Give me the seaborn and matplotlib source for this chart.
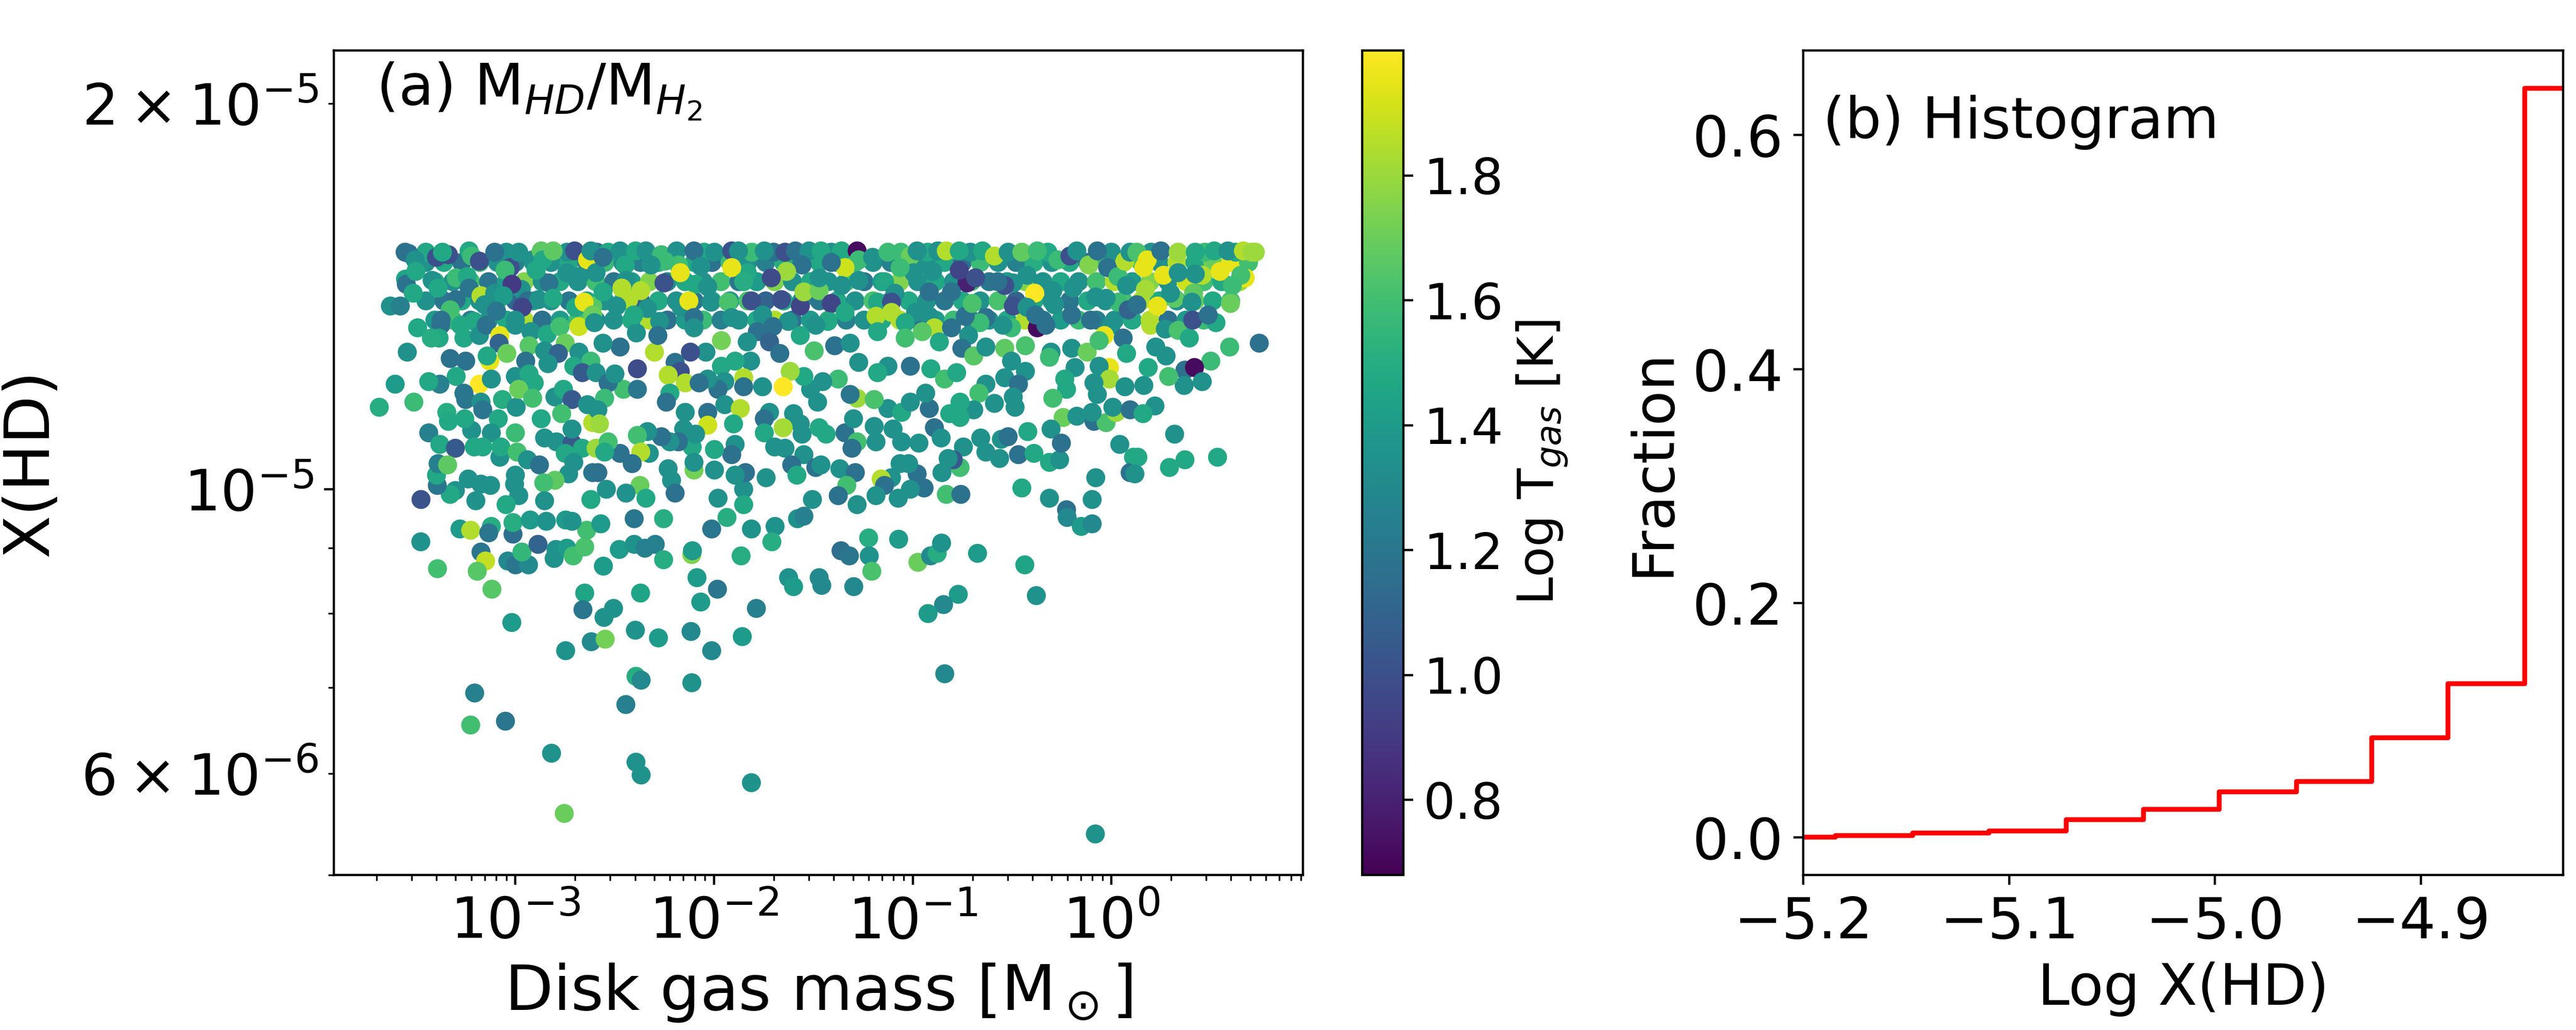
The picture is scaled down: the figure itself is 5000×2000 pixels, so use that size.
import numpy as np
import pandas as pd
import matplotlib
matplotlib.use("Agg")
import matplotlib.pyplot as plt
import seaborn as sns
from matplotlib.colors import Normalize
from matplotlib.cm import ScalarMappable

# ---------------------------------------------------------------------------
# Scatter data: (log10 Mgas [Msun], log10 X(HD), log10 Tgas [K])
# ---------------------------------------------------------------------------
# densely packed band just below the upper limit (drawn first, underneath)
pts_dense = [
    (-3.45, -4.823, 1.34), (-3.36, -4.823, 1.47), (-3.27, -4.823, 1.17), (-3.18, -4.823, 1.58),
    (-3.09, -4.823, 1.34), (-3.00, -4.823, 1.25), (-2.91, -4.823, 1.50), (-2.82, -4.823, 1.34),
    (-2.73, -4.823, 1.47), (-2.64, -4.823, 1.17), (-2.55, -4.823, 1.58), (-2.46, -4.823, 1.34),
    (-2.37, -4.823, 1.25), (-2.28, -4.823, 1.50), (-2.19, -4.823, 1.34), (-2.10, -4.823, 1.47),
    (-2.01, -4.823, 1.17), (-1.92, -4.823, 1.58), (-1.83, -4.823, 1.34), (-1.74, -4.823, 1.25),
    (-1.65, -4.823, 1.50), (-1.56, -4.823, 1.34), (-1.47, -4.823, 1.47), (-1.38, -4.823, 1.17),
    (-1.29, -4.823, 1.58), (-1.20, -4.823, 1.34), (-1.11, -4.823, 1.25), (-1.02, -4.823, 1.50),
    (-0.93, -4.823, 1.34), (-0.84, -4.823, 1.47), (-0.75, -4.823, 1.17), (-0.66, -4.823, 1.58),
    (-0.57, -4.823, 1.34), (-0.48, -4.823, 1.25), (-0.39, -4.823, 1.50), (-0.30, -4.823, 1.34),
    (-0.21, -4.823, 1.47), (-0.12, -4.823, 1.17), (-0.03, -4.823, 1.58), (0.06, -4.823, 1.80),
    (0.15, -4.823, 1.60), (0.24, -4.823, 1.34), (0.33, -4.823, 1.85), (0.42, -4.823, 1.47),
    (0.51, -4.823, 1.70), (0.60, -4.823, 1.95), (0.69, -4.823, 1.60),
    (-3.405, -4.838, 1.47), (-3.315, -4.838, 1.34), (-3.225, -4.838, 1.60), (-3.135, -4.838, 1.20),
    (-3.045, -4.838, 1.40), (-2.955, -4.838, 1.75), (-2.865, -4.838, 1.34), (-2.775, -4.838, 1.47),
    (-2.685, -4.838, 1.34), (-2.595, -4.838, 1.60), (-2.505, -4.838, 1.20), (-2.415, -4.838, 1.40),
    (-2.325, -4.838, 1.75), (-2.235, -4.838, 1.34), (-2.145, -4.838, 1.47), (-2.055, -4.838, 1.34),
    (-1.965, -4.838, 1.60), (-1.875, -4.838, 1.20), (-1.785, -4.838, 1.40), (-1.695, -4.838, 1.75),
    (-1.605, -4.838, 1.34), (-1.515, -4.838, 1.47), (-1.425, -4.838, 1.34), (-1.335, -4.838, 1.60),
    (-1.245, -4.838, 1.20), (-1.155, -4.838, 1.40), (-1.065, -4.838, 1.75), (-0.975, -4.838, 1.34),
    (-0.885, -4.838, 1.47), (-0.795, -4.838, 1.34), (-0.705, -4.838, 1.60), (-0.615, -4.838, 1.20),
    (-0.525, -4.838, 1.40), (-0.435, -4.838, 1.75), (-0.345, -4.838, 1.34), (-0.255, -4.838, 1.47),
    (-0.165, -4.838, 1.34), (-0.075, -4.838, 1.60), (0.015, -4.838, 1.85), (0.105, -4.838, 1.40),
    (0.195, -4.838, 1.75), (0.285, -4.838, 1.34), (0.375, -4.838, 1.90), (0.465, -4.838, 1.60),
    (0.555, -4.838, 1.47), (0.645, -4.838, 1.80),
    (-3.45, -4.853, 1.34), (-3.36, -4.853, 1.20), (-3.27, -4.853, 1.47), (-3.18, -4.853, 1.34),
    (-3.09, -4.853, 1.62), (-3.00, -4.853, 1.10), (-2.91, -4.853, 1.47), (-2.82, -4.853, 1.34),
    (-2.73, -4.853, 1.20), (-2.64, -4.853, 1.47), (-2.55, -4.853, 1.34), (-2.46, -4.853, 1.62),
    (-2.37, -4.853, 1.10), (-2.28, -4.853, 1.47), (-2.19, -4.853, 1.34), (-2.10, -4.853, 1.20),
    (-2.01, -4.853, 1.47), (-1.92, -4.853, 1.34), (-1.83, -4.853, 1.62), (-1.74, -4.853, 1.10),
    (-1.65, -4.853, 1.47), (-1.56, -4.853, 1.34), (-1.47, -4.853, 1.20), (-1.38, -4.853, 1.47),
    (-1.29, -4.853, 1.34), (-1.20, -4.853, 1.62), (-1.11, -4.853, 1.10), (-1.02, -4.853, 1.47),
    (-0.93, -4.853, 1.34), (-0.84, -4.853, 1.20), (-0.75, -4.853, 1.47), (-0.66, -4.853, 1.34),
    (-0.57, -4.853, 1.62), (-0.48, -4.853, 1.10), (-0.39, -4.853, 1.47), (-0.30, -4.853, 1.34),
    (-0.21, -4.853, 1.20), (-0.12, -4.853, 1.47), (-0.03, -4.853, 1.34), (0.06, -4.853, 1.62),
    (0.15, -4.853, 1.85), (0.24, -4.853, 1.47), (0.33, -4.853, 1.34), (0.42, -4.853, 1.70),
    (0.51, -4.853, 1.47), (0.60, -4.853, 1.62),
    (-3.405, -4.868, 1.40), (-3.315, -4.868, 1.58), (-3.225, -4.868, 1.25), (-3.135, -4.868, 1.34),
    (-3.045, -4.868, 1.47), (-2.955, -4.868, 1.85), (-2.865, -4.868, 1.17), (-2.775, -4.868, 1.40),
    (-2.685, -4.868, 1.58), (-2.595, -4.868, 1.25), (-2.505, -4.868, 1.34), (-2.415, -4.868, 1.47),
    (-2.325, -4.868, 1.85), (-2.235, -4.868, 1.17), (-2.145, -4.868, 1.40), (-2.055, -4.868, 1.58),
    (-1.965, -4.868, 1.25), (-1.875, -4.868, 1.34), (-1.785, -4.868, 1.47), (-1.695, -4.868, 1.85),
    (-1.605, -4.868, 1.17), (-1.515, -4.868, 1.40), (-1.425, -4.868, 1.58), (-1.335, -4.868, 1.25),
    (-1.245, -4.868, 1.34), (-1.155, -4.868, 1.47), (-1.065, -4.868, 1.85), (-0.975, -4.868, 1.17),
    (-0.885, -4.868, 1.40), (-0.795, -4.868, 1.58), (-0.705, -4.868, 1.25), (-0.615, -4.868, 1.34),
    (-0.525, -4.868, 1.47), (-0.435, -4.868, 1.85), (-0.345, -4.868, 1.17), (-0.255, -4.868, 1.40),
    (-0.165, -4.868, 1.58), (-0.075, -4.868, 1.25), (0.015, -4.868, 1.34), (0.105, -4.868, 1.47),
    (0.195, -4.868, 1.85), (0.285, -4.868, 1.17), (0.375, -4.868, 1.40), (0.465, -4.868, 1.58),
]

pts_low = [
    (-3.476, -5.041, 1.35), (-3.392, -5.062, 1.60), (-3.279, -5.031, 1.40), (-3.225, -5.032, 1.85),
    (-3.121, -5.029, 1.50), (-3.134, -5.034, 1.20), (-3.012, -5.035, 1.15), (-3.012, -5.026, 1.50),
    (-3.173, -5.049, 1.20), (-3.150, -5.056, 1.88), (-3.192, -5.064, 1.65), (-3.118, -5.078, 1.65),
    (-3.038, -5.056, 1.30), (-2.999, -5.059, 1.20), (-2.934, -5.059, 1.30), (-2.967, -5.049, 1.55),
    (-2.886, -5.043, 1.10), (-2.805, -5.054, 1.35), (-2.796, -5.047, 1.35), (-2.741, -5.046, 1.40),
    (-2.709, -5.052, 1.60), (-2.651, -5.045, 1.62), (-2.641, -5.032, 1.60), (-2.570, -5.027, 1.40),
    (-2.557, -5.060, 1.40), (-2.925, -5.024, 1.40), (-2.844, -5.025, 1.35), (-2.747, -5.024, 1.40),
    (-2.715, -5.025, 1.35), (-2.402, -5.023, 1.20), (-2.254, -5.023, 1.50), (-2.477, -5.047, 1.40),
    (-2.402, -5.043, 1.35), (-2.348, -5.046, 1.25), (-2.296, -5.043, 1.25), (-2.254, -5.055, 1.50),
    (-2.112, -5.051, 1.75), (-2.109, -5.048, 1.40), (-2.012, -5.031, 1.20), (-1.935, -5.022, 1.50),
    (-1.812, -5.031, 1.35), (-1.693, -5.029, 1.35), (-1.709, -5.041, 1.50), (-1.864, -5.052, 1.50),
    (-1.580, -5.023, 1.35), (-1.548, -5.021, 1.25), (-2.086, -5.069, 1.40), (-1.983, -5.078, 1.20),
    (-2.651, -5.081, 1.45), (-2.370, -5.081, 1.45), (-2.067, -5.088, 1.40), (-1.787, -5.093, 1.25),
    (-2.660, -5.094, 1.20), (-2.506, -5.093, 1.35), (-2.554, -5.100, 1.35), (-3.018, -5.104, 1.40),
    (-2.396, -5.110, 1.35), (-2.280, -5.116, 1.40), (-2.116, -5.111, 1.30), (-1.858, -5.115, 1.40),
    (-2.618, -5.119, 1.30), (-2.548, -5.117, 1.72), (-2.747, -5.126, 1.35), (-2.012, -5.126, 1.30),
    (-1.625, -5.069, 1.35), (-1.600, -5.076, 1.40), (-1.471, -5.069, 1.30), (-1.458, -5.075, 1.30),
    (-1.297, -5.076, 1.30), (-1.361, -5.048, 1.15), (-1.319, -5.052, 1.20), (-1.222, -5.038, 1.50),
    (-1.219, -5.052, 1.35), (-1.206, -5.064, 1.62), (-1.071, -5.039, 1.40), (-0.974, -5.057, 1.70),
    (-0.910, -5.052, 1.30), (-0.877, -5.050, 1.50), (-0.855, -5.042, 1.35), (-0.674, -5.050, 1.40),
    (-0.436, -5.059, 1.45), (-0.378, -5.083, 1.35), (-0.771, -5.082, 1.40), (-0.845, -5.090, 1.30),
    (-0.923, -5.097, 1.40), (-0.223, -5.022, 1.30), (-0.152, -5.029, 1.40), (-0.097, -5.027, 1.30),
    (-0.839, -5.144, 1.30), (-2.393, -5.146, 1.50), (-2.367, -5.149, 1.30), (-2.112, -5.151, 1.35),
    (-3.205, -5.159, 1.25), (-2.444, -5.168, 1.25), (-3.225, -5.184, 1.60), (-3.050, -5.181, 1.20),
    (-2.818, -5.206, 1.35), (-2.393, -5.213, 1.35), (-2.367, -5.223, 1.35), (-1.812, -5.229, 1.35),
    (-2.754, -5.253, 1.70), (-0.081, -5.269, 1.35),
]

pts_left = [
    (-3.537, -4.816, 1.17), (-3.504, -4.821, 1.34), (-3.397, -4.819, 1.00), (-3.337, -4.817, 1.00),
    (-3.367, -4.815, 1.47), (-3.233, -4.814, 1.47), (-3.220, -4.818, 1.58), (-3.181, -4.822, 1.00),
    (-3.104, -4.815, 1.17), (-3.026, -4.827, 1.00), (-3.052, -4.829, 1.58), (-2.983, -4.815, 1.34),
    (-2.913, -4.821, 1.34), (-2.870, -4.814, 1.67), (-2.862, -4.821, 1.47), (-2.810, -4.814, 1.67),
    (-2.702, -4.814, 1.00), (-2.637, -4.821, 1.95), (-2.620, -4.814, 1.34), (-2.741, -4.831, 1.34),
    (-2.831, -4.839, 1.20), (-2.970, -4.844, 1.34), (-3.017, -4.840, 0.90), (-2.896, -4.829, 1.47),
    (-2.680, -4.834, 1.34), (-2.594, -4.831, 1.34), (-3.553, -4.836, 1.45), (-3.549, -4.840, 1.17),
    (-3.514, -4.847, 1.47), (-3.501, -4.830, 1.47), (-3.419, -4.837, 1.34), (-3.389, -4.843, 1.47),
    (-3.298, -4.835, 1.58), (-3.242, -4.834, 1.47), (-3.233, -4.843, 1.20), (-3.298, -4.852, 1.17),
    (-3.328, -4.860, 1.60), (-3.173, -4.849, 1.85), (-3.104, -4.847, 1.34), (-3.060, -4.849, 1.40),
    (-3.155, -4.856, 1.34), (-3.095, -4.861, 1.20), (-2.939, -4.853, 1.15), (-2.883, -4.852, 1.34),
    (-2.810, -4.851, 1.47), (-2.697, -4.858, 1.47), (-2.611, -4.857, 1.65), (-2.654, -4.854, 1.95),
    (-2.965, -4.858, 0.95), (-3.629, -4.857, 1.34), (-3.579, -4.857, 1.25), (-3.492, -4.874, 1.47),
    (-3.373, -4.868, 1.17), (-3.376, -4.872, 1.17), (-3.384, -4.882, 1.47), (-3.276, -4.872, 1.47),
    (-3.259, -4.882, 1.47), (-3.207, -4.869, 1.47), (-3.181, -4.880, 1.34), (-3.147, -4.872, 1.17),
    (-3.078, -4.880, 1.95), (-3.082, -4.886, 1.10), (-3.000, -4.868, 1.34), (-3.000, -4.872, 1.34),
    (-2.922, -4.877, 1.34), (-2.840, -4.879, 1.47), (-2.775, -4.873, 1.60), (-2.749, -4.886, 1.70),
    (-2.680, -4.873, 1.90), (-2.611, -4.864, 1.70), (-2.602, -4.870, 1.34), (-2.931, -4.888, 1.65),
    (-2.853, -4.892, 1.34), (-2.784, -4.894, 1.10), (-2.680, -4.893, 1.34), (-2.620, -4.900, 1.58),
    (-2.706, -4.904, 1.47), (-2.663, -4.909, 1.05), (-2.594, -4.909, 1.34), (-3.043, -4.894, 1.70),
    (-3.129, -4.900, 1.95), (-3.142, -4.896, 1.47), (-3.250, -4.900, 1.17), (-3.328, -4.898, 1.17),
    (-3.544, -4.893, 1.34), (-2.948, -4.900, 1.17), (-2.836, -4.902, 1.34), (-3.000, -4.912, 1.34),
    (-2.931, -4.910, 1.47), (-2.905, -4.917, 1.47), (-3.298, -4.912, 1.47), (-3.380, -4.918, 1.25),
    (-3.436, -4.916, 1.47), (-3.605, -4.918, 1.40), (-3.181, -4.918, 2.00), (-3.121, -4.914, 1.34),
    (-3.259, -4.925, 1.20), (-3.250, -4.930, 1.20), (-3.173, -4.932, 1.34), (-3.164, -4.938, 1.20),
    (-3.065, -4.930, 1.50), (-2.996, -4.936, 1.34), (-2.983, -4.922, 1.70), (-2.913, -4.929, 1.60),
    (-2.801, -4.928, 1.34), (-2.758, -4.922, 1.47), (-2.715, -4.930, 1.05), (-2.637, -4.934, 1.34),
    (-2.767, -4.941, 1.60), (-2.611, -4.948, 1.85), (-2.870, -4.945, 1.47), (-3.000, -4.956, 1.58),
    (-3.086, -4.945, 1.47), (-3.121, -4.956, 1.34), (-3.220, -4.954, 1.34), (-3.255, -4.945, 1.47),
    (-3.345, -4.940, 1.50), (-3.337, -4.947, 1.47), (-3.436, -4.956, 1.25), (-3.380, -4.965, 1.47),
    (-3.302, -4.968, 1.05), (-3.207, -4.967, 1.47), (-3.164, -4.967, 1.47), (-3.078, -4.975, 1.34),
    (-3.073, -4.967, 1.47), (-2.991, -4.971, 1.60), (-2.939, -4.977, 1.34), (-2.879, -4.981, 1.17),
    (-2.853, -4.960, 1.34), (-2.793, -4.963, 1.34), (-2.715, -4.964, 1.05), (-2.715, -4.953, 1.34),
    (-2.749, -4.972, 1.47), (-2.663, -4.968, 1.47), (-2.594, -4.968, 1.80), (-2.706, -4.979, 1.34),
    (-2.611, -4.987, 1.20), (-2.732, -4.988, 1.34), (-2.801, -4.993, 1.67), (-2.857, -4.995, 1.60),
    (-3.000, -4.989, 1.34), (-3.004, -4.996, 1.34), (-2.983, -5.005, 1.34), (-3.125, -4.997, 1.34),
    (-3.173, -4.996, 1.34), (-3.237, -4.992, 1.34), (-3.302, -5.001, 1.34), (-3.328, -5.004, 1.47),
    (-3.199, -5.009, 1.34), (-3.047, -5.012, 1.47), (-2.853, -5.009, 1.34), (-2.620, -5.008, 1.47),
    (-3.393, -4.997, 1.20), (-3.397, -4.989, 1.47), (-3.389, -4.980, 1.25), (-3.341, -4.981, 1.67),
    (-3.475, -5.008, 1.02), (-3.685, -4.936, 1.50), (-3.511, -4.932, 1.58), (-3.423, -4.882, 1.50),
]

pts_midleft = [
    (-2.533, -4.815, 1.47), (-2.473, -4.814, 1.34), (-2.395, -4.814, 1.47), (-2.343, -4.814, 1.34),
    (-2.265, -4.817, 1.58), (-2.188, -4.814, 1.34), (-2.101, -4.814, 1.17), (-1.998, -4.815, 1.34),
    (-1.911, -4.814, 1.02), (-1.877, -4.814, 1.34), (-1.747, -4.814, 1.34), (-1.643, -4.815, 1.00),
    (-1.591, -4.814, 1.17), (-1.522, -4.814, 1.34), (-1.462, -4.814, 1.47), (-1.358, -4.814, 1.47),
    (-1.280, -4.814, 0.72), (-1.272, -4.821, 1.58), (-1.341, -4.827, 1.90), (-1.410, -4.823, 1.17),
    (-1.557, -4.825, 1.17), (-1.635, -4.830, 1.80), (-1.712, -4.835, 0.98), (-1.833, -4.831, 1.47),
    (-1.911, -4.827, 1.95), (-2.067, -4.826, 1.34), (-2.179, -4.825, 1.60), (-2.248, -4.822, 1.58),
    (-2.317, -4.825, 1.34), (-2.447, -4.825, 1.47), (-2.559, -4.819, 1.17), (-2.443, -4.837, 1.34),
    (-2.252, -4.839, 1.02), (-2.093, -4.840, 1.47), (-2.032, -4.842, 1.34), (-2.170, -4.831, 1.95),
    (-2.369, -4.845, 1.85), (-2.464, -4.843, 1.85), (-2.430, -4.852, 1.85), (-2.490, -4.857, 1.34),
    (-2.559, -4.846, 1.47), (-2.335, -4.859, 1.34), (-2.274, -4.869, 1.34), (-2.166, -4.858, 1.34),
    (-2.127, -4.853, 1.95), (-2.101, -4.866, 1.17), (-2.015, -4.854, 1.34), (-1.928, -4.854, 1.62),
    (-1.851, -4.838, 1.50), (-1.812, -4.853, 1.00), (-1.756, -4.864, 1.34), (-1.661, -4.852, 1.00),
    (-1.566, -4.857, 0.95), (-1.548, -4.846, 1.80), (-1.471, -4.845, 1.70), (-1.410, -4.855, 0.95),
    (-1.471, -4.835, 1.34), (-1.358, -4.841, 1.34), (-1.272, -4.837, 1.34), (-1.341, -4.862, 1.47),
    (-1.427, -4.869, 1.47), (-1.488, -4.872, 1.34), (-1.566, -4.880, 1.47), (-1.626, -4.869, 1.34),
    (-1.704, -4.873, 1.17), (-1.782, -4.877, 1.17), (-1.721, -4.885, 1.10), (-1.669, -4.894, 1.17),
    (-1.833, -4.885, 1.34), (-1.816, -4.900, 1.34), (-1.911, -4.866, 1.34), (-1.894, -4.900, 1.47),
    (-1.963, -4.904, 1.47), (-1.963, -4.884, 1.72), (-2.041, -4.893, 1.34), (-2.119, -4.893, 1.00),
    (-2.101, -4.874, 1.34), (-2.196, -4.901, 1.17), (-2.170, -4.908, 1.00), (-2.231, -4.911, 1.85),
    (-2.145, -4.917, 1.85), (-2.300, -4.893, 1.85), (-2.283, -4.880, 1.17), (-2.391, -4.878, 1.34),
    (-2.404, -4.864, 1.47), (-2.386, -4.906, 0.98), (-2.473, -4.889, 1.17), (-2.559, -4.886, 1.34),
    (-2.456, -4.922, 1.60), (-2.386, -4.922, 1.20), (-2.533, -4.917, 1.17), (-2.499, -4.910, 1.34),
    (-2.551, -4.929, 1.58), (-2.585, -4.938, 1.34), (-1.496, -4.892, 1.62), (-1.393, -4.888, 1.17),
    (-1.315, -4.886, 1.34), (-1.375, -4.914, 1.58), (-1.280, -4.929, 1.80), (-1.315, -4.926, 1.20),
    (-1.272, -4.901, 1.34), (-1.453, -4.916, 1.34), (-1.514, -4.922, 1.34), (-1.479, -4.932, 1.34),
    (-1.548, -4.912, 1.47), (-1.617, -4.908, 1.80), (-1.652, -4.920, 2.00), (-1.756, -4.920, 1.34),
    (-1.851, -4.913, 1.85), (-1.851, -4.920, 1.17), (-1.946, -4.916, 1.34), (-1.980, -4.922, 1.17),
    (-2.032, -4.914, 1.34), (-2.075, -4.917, 1.17), (-2.222, -4.925, 1.47), (-2.240, -4.932, 1.17),
    (-2.145, -4.940, 1.34), (-2.032, -4.940, 1.17), (-1.946, -4.934, 1.34), (-1.868, -4.937, 1.85),
    (-2.032, -4.950, 1.90), (-1.902, -4.949, 1.47), (-1.721, -4.940, 1.34), (-1.747, -4.945, 1.17),
    (-1.600, -4.941, 1.34), (-1.566, -4.949, 1.34), (-1.652, -4.952, 1.82), (-1.747, -4.956, 1.47),
    (-1.557, -4.957, 1.34), (-1.471, -4.952, 1.47), (-1.436, -4.957, 1.47), (-1.341, -4.956, 1.17),
    (-1.298, -4.945, 1.34), (-1.280, -4.963, 1.60), (-1.306, -4.968, 1.17), (-1.695, -4.967, 1.34),
    (-1.643, -4.968, 1.34), (-1.548, -4.973, 1.34), (-1.609, -4.981, 1.17), (-1.583, -4.989, 1.47),
    (-1.488, -4.983, 1.17), (-1.462, -4.981, 1.34), (-1.367, -4.984, 1.34), (-1.289, -4.987, 1.17),
    (-1.332, -4.997, 1.60), (-1.375, -5.005, 1.17), (-1.505, -5.008, 1.34), (-1.280, -5.012, 1.34),
    (-1.738, -4.991, 1.34), (-1.851, -5.000, 1.34), (-1.842, -4.987, 1.17), (-1.894, -4.989, 1.34),
    (-1.894, -4.965, 1.34), (-1.911, -4.973, 1.17), (-1.998, -4.969, 1.47), (-2.110, -4.967, 1.47),
    (-2.093, -4.957, 1.34), (-2.101, -4.985, 1.72), (-2.101, -4.979, 1.34), (-1.998, -4.985, 1.34),
    (-2.153, -4.953, 1.34), (-2.179, -4.963, 1.17), (-2.222, -4.963, 1.34), (-2.265, -4.959, 1.17),
    (-2.335, -4.955, 1.34), (-2.386, -4.958, 1.60), (-2.326, -4.972, 1.34), (-2.369, -4.971, 1.85),
    (-2.412, -4.980, 1.17), (-2.473, -4.972, 1.17), (-2.533, -4.963, 1.60), (-2.551, -4.971, 1.47),
    (-2.577, -4.949, 1.80), (-2.585, -4.987, 1.17), (-2.231, -4.984, 1.34), (-2.214, -4.993, 1.34),
    (-2.196, -5.003, 1.17), (-2.373, -4.997, 1.70), (-2.343, -5.007, 1.47), (-2.443, -5.003, 1.34),
    (-2.542, -5.000, 1.34), (-1.980, -5.007, 1.34), (-1.851, -5.012, 1.47),
]

pts_midright = [
    (-1.202, -4.819, 1.34), (-1.125, -4.815, 1.58), (-1.012, -4.818, 1.70), (-0.978, -4.814, 1.34),
    (-0.874, -4.814, 1.34), (-0.831, -4.814, 1.85), (-0.766, -4.814, 1.47), (-0.649, -4.814, 1.47),
    (-0.589, -4.818, 1.85), (-0.520, -4.815, 1.34), (-0.451, -4.815, 1.68), (-0.373, -4.814, 1.58),
    (-0.269, -4.821, 1.58), (-0.209, -4.818, 1.00), (-0.174, -4.814, 1.34), (-0.114, -4.825, 1.75),
    (-0.071, -4.814, 1.17), (-0.019, -4.827, 1.17), (0.033, -4.834, 1.58), (0.068, -4.822, 1.85),
    (0.094, -4.815, 1.34), (0.076, -4.841, 1.34), (0.033, -4.854, 1.58), (0.085, -4.860, 1.10),
    (-0.001, -4.872, 1.34), (-0.027, -4.851, 1.34), (-0.079, -4.850, 1.34), (-0.105, -4.868, 1.17),
    (-0.200, -4.864, 1.17), (-0.192, -4.843, 1.34), (-0.287, -4.856, 1.34), (-0.295, -4.845, 1.34),
    (-0.373, -4.874, 0.72), (-0.330, -4.872, 1.17), (-0.386, -4.847, 2.00), (-0.425, -4.833, 1.34),
    (-0.494, -4.839, 1.34), (-0.537, -4.841, 1.00), (-0.572, -4.838, 1.17), (-0.494, -4.857, 1.00),
    (-0.425, -4.858, 1.34), (-0.382, -4.864, 1.17), (-0.503, -4.874, 1.58), (-0.546, -4.872, 1.34),
    (-0.632, -4.866, 1.17), (-0.662, -4.870, 1.58), (-0.736, -4.865, 1.17), (-0.701, -4.855, 1.62),
    (-0.727, -4.839, 0.80), (-0.766, -4.829, 0.95), (-0.684, -4.835, 1.00), (-0.805, -4.846, 1.17),
    (-0.917, -4.846, 1.17), (-0.900, -4.830, 1.34), (-0.995, -4.831, 1.34), (-1.064, -4.827, 1.58),
    (-1.142, -4.838, 1.47), (-1.090, -4.847, 1.34), (-1.177, -4.854, 1.47), (-1.107, -4.854, 1.00),
    (-1.185, -4.865, 1.85), (-1.107, -4.862, 1.85), (-0.986, -4.862, 1.34), (-0.917, -4.865, 1.34),
    (-1.038, -4.870, 1.47), (-1.177, -4.877, 1.47), (-1.038, -4.882, 1.60), (-0.891, -4.874, 1.85),
    (-0.952, -4.877, 1.65), (-0.866, -4.885, 1.47), (-0.805, -4.874, 1.17), (-0.719, -4.880, 1.34),
    (-0.753, -4.890, 1.17), (-0.693, -4.896, 1.65), (-0.632, -4.889, 1.34), (-0.537, -4.890, 1.67),
    (-0.433, -4.888, 1.62), (-0.304, -4.893, 1.34), (-0.312, -4.897, 1.58), (-0.200, -4.890, 1.34),
    (-0.122, -4.893, 1.70), (-0.036, -4.880, 1.95), (-0.062, -4.884, 1.60), (0.059, -4.882, 1.17),
    (0.076, -4.894, 1.47), (-0.010, -4.905, 1.95), (-0.062, -4.904, 1.34), (-0.010, -4.914, 1.82),
    (0.068, -4.920, 1.34), (-0.088, -4.917, 1.34), (-0.071, -4.926, 1.34), (-0.183, -4.905, 1.34),
    (-0.235, -4.914, 1.47), (-0.226, -4.922, 1.47), (-0.295, -4.929, 1.60), (-0.243, -4.944, 1.70),
    (-0.174, -4.943, 1.34), (-0.088, -4.947, 1.17), (-0.027, -4.948, 1.62), (0.024, -4.940, 1.80),
    (0.007, -4.936, 1.34), (0.094, -4.938, 1.17), (-0.097, -4.940, 1.34), (-0.503, -4.900, 1.34),
    (-0.433, -4.908, 1.34), (-0.537, -4.913, 1.34), (-0.468, -4.918, 1.17), (-0.632, -4.918, 1.34),
    (-0.589, -4.933, 1.34), (-0.667, -4.925, 1.60), (-0.494, -4.928, 1.34), (-0.485, -4.936, 1.34),
    (-0.693, -4.938, 1.34), (-0.762, -4.932, 1.47), (-0.762, -4.944, 1.47), (-0.814, -4.941, 1.47),
    (-0.917, -4.937, 1.17), (-0.891, -4.952, 1.17), (-0.857, -4.960, 1.34), (-0.969, -4.964, 1.34),
    (-1.056, -4.963, 1.34), (-1.099, -4.953, 1.34), (-1.185, -4.963, 1.34), (-1.194, -4.951, 1.34),
    (-1.125, -4.937, 1.34), (-1.056, -4.940, 1.47), (-1.012, -4.932, 1.34), (-0.935, -4.925, 1.34),
    (-1.194, -4.930, 1.62), (-1.125, -4.904, 1.34), (-1.012, -4.904, 1.17), (-0.909, -4.906, 1.47),
    (-0.840, -4.914, 1.60), (-0.779, -4.909, 1.47), (-1.177, -4.909, 1.47), (-0.745, -4.967, 1.34),
    (-0.658, -4.960, 1.34), (-0.632, -4.971, 1.34), (-0.563, -4.976, 1.34), (-0.554, -4.961, 1.34),
    (-0.520, -4.959, 1.17), (-0.468, -4.973, 1.17), (-0.421, -4.955, 1.47), (-0.390, -4.972, 1.47),
    (-0.312, -4.979, 1.47), (-0.261, -4.977, 1.34), (-0.304, -4.953, 1.34), (-0.252, -4.964, 1.17),
    (0.042, -4.965, 1.34), (0.111, -4.975, 1.47), (0.094, -4.987, 1.17), (-0.079, -4.991, 1.34),
    (-0.097, -5.008, 1.34), (-0.312, -5.007, 1.34), (-0.451, -4.999, 1.47), (-0.226, -5.016, 1.17),
    (-0.762, -4.983, 1.60), (-0.796, -4.977, 1.05), (-0.822, -4.976, 1.34), (-0.853, -4.987, 1.34),
    (-0.831, -5.004, 1.60), (-0.758, -5.004, 1.17), (-0.943, -4.999, 1.17), (-0.978, -4.988, 1.17),
    (-1.021, -4.980, 1.34), (-1.064, -4.980, 1.34), (-1.107, -4.991, 1.34), (-1.159, -4.992, 1.85),
    (-1.142, -4.997, 1.17), (-1.185, -5.005, 1.34), (-1.073, -5.007, 1.34), (-1.012, -5.000, 1.34),
]

pts_right = [
    (0.128, -4.815, 1.62), (0.180, -4.821, 1.95), (0.249, -4.814, 1.17), (0.336, -4.815, 1.80),
    (0.422, -4.815, 1.47), (0.517, -4.814, 1.47), (0.586, -4.814, 1.34), (0.664, -4.814, 1.85),
    (0.724, -4.815, 1.80), (0.707, -4.815, 1.80), (0.163, -4.827, 1.95), (0.262, -4.833, 1.95),
    (0.336, -4.831, 1.34), (0.457, -4.833, 1.85), (0.422, -4.832, 1.34), (0.547, -4.830, 1.95),
    (0.673, -4.835, 1.95), (0.651, -4.833, 1.60), (0.608, -4.841, 1.58), (0.599, -4.855, 1.70),
    (0.318, -4.851, 1.67), (0.413, -4.847, 1.67), (0.405, -4.854, 1.34), (0.297, -4.847, 1.34),
    (0.171, -4.844, 1.82), (0.232, -4.857, 1.95), (0.128, -4.856, 1.17), (0.197, -4.872, 1.85),
    (0.271, -4.875, 1.34), (0.336, -4.876, 1.62), (0.392, -4.882, 1.47), (0.409, -4.868, 1.00),
    (0.526, -4.870, 1.47), (0.487, -4.864, 1.17), (0.595, -4.889, 1.58), (0.744, -4.886, 1.17),
    (0.500, -4.900, 1.58), (0.370, -4.907, 1.17), (0.418, -4.905, 0.72), (0.457, -4.916, 1.34),
    (0.366, -4.919, 1.34), (0.288, -4.912, 1.60), (0.275, -4.896, 1.34), (0.223, -4.889, 1.34),
    (0.163, -4.919, 1.34), (0.185, -4.905, 1.47), (0.219, -4.935, 1.34), (0.159, -4.941, 1.47),
    (0.318, -4.957, 1.34), (0.133, -4.975, 1.47), (0.292, -4.983, 1.47), (0.370, -4.977, 1.47),
    (0.534, -4.975, 1.47), (0.118, -4.988, 1.34),
]

pts_cap = [
    (-3.555, -4.815, 1.17), (-3.450, -4.815, 1.47), (-3.045, -4.815, 1.34), (-2.740, -4.815, 1.34),
    (-2.590, -4.815, 1.17), (-2.050, -4.815, 1.47), (-1.810, -4.815, 1.58), (-1.700, -4.815, 1.17),
    (-1.410, -4.815, 1.34), (-1.060, -4.815, 1.58), (-0.925, -4.815, 1.47), (-0.710, -4.815, 1.34),
    (-0.320, -4.815, 1.47), (0.000, -4.815, 1.34), (0.200, -4.815, 1.34), (0.470, -4.815, 1.58),
    (0.625, -4.815, 1.47),
]

# Histogram of log X(HD) (fraction per bin)
hist_edges = [-5.259, -5.222, -5.1845, -5.147, -5.110, -5.0725, -5.035, -4.998, -4.9605,
              -4.924, -4.887, -4.8497, -4.8124]
hist_frac = [0.003, 0.0007, 0.0018, 0.0040, 0.0059, 0.0154, 0.0243, 0.0394, 0.0481,
             0.0856, 0.1315, 0.640]

tgas_ticks = [0.8, 1.0, 1.2, 1.4, 1.6, 1.8]
tgas_range = (0.68, 2.0)

# ---------------------------------------------------------------------------
all_pts = pts_dense + pts_cap + pts_left + pts_midleft + pts_midright + pts_right + pts_low
log_mass = np.array([p[0] for p in all_pts])
log_xhd = np.array([p[1] for p in all_pts])
log_tgas = np.array([p[2] for p in all_pts])
df = pd.DataFrame({"mass": 10.0 ** log_mass, "xhd": 10.0 ** log_xhd, "tgas": log_tgas})

norm = Normalize(vmin=tgas_range[0], vmax=tgas_range[1])

fig = plt.figure(figsize=(12.5, 5), dpi=400)
ax1 = fig.add_axes([0.1296, 0.1505, 0.3762, 0.8005])
cax = fig.add_axes([0.5288, 0.1505, 0.016, 0.8005])
ax2 = fig.add_axes([0.700, 0.1505, 0.295, 0.8005])

# ---- panel (a)
sns.scatterplot(data=df, x="mass", y="xhd", hue="tgas", palette="viridis",
                hue_norm=norm, s=44, linewidth=0, legend=False, ax=ax1)
ax1.set_xscale("log")
ax1.set_yscale("log")
ax1.set_xlim(1.22e-4, 9.2)
ax1.set_ylim(5e-6, 2.2e-5)
ax1.tick_params(axis="both", which="both", labelsize=20)
ax1.set_xlabel(r"Disk gas mass [M$_\odot$]", fontsize=22)
ax1.set_ylabel("X(HD)", fontsize=22)
ax1.yaxis.set_label_coords(-0.282, 0.5)
ax1.text(0.0436, 0.934, r"(a) M$_{HD}$/M$_{H_2}$", transform=ax1.transAxes,
         fontsize=20, va="baseline", ha="left")

sm = ScalarMappable(norm=norm, cmap="viridis")
sm.set_array([])
cb = fig.colorbar(sm, cax=cax)
cb.set_ticks(tgas_ticks)
cb.ax.tick_params(labelsize=17.5)
cb.set_label(r"Log T$_{gas}$ [K]", fontsize=17.5)

# ---- panel (b)
centers = [(a + b) / 2 for a, b in zip(hist_edges[:-1], hist_edges[1:])]
sns.histplot(x=centers, weights=hist_frac, bins=hist_edges, element="step",
             fill=False, color="red", linewidth=1.7, ax=ax2)
ax2.set_xlim(-5.2, -4.831)
ax2.set_ylim(-0.032, 0.672)
ax2.set_xticks([-5.2, -5.1, -5.0, -4.9])
ax2.set_yticks([0.0, 0.2, 0.4, 0.6])
ax2.tick_params(axis="both", which="both", labelsize=20)
ax2.set_xlabel("Log X(HD)", fontsize=20)
ax2.set_ylabel("Fraction", fontsize=20)
ax2.text(0.026, 0.894, "(b) Histogram", transform=ax2.transAxes,
         fontsize=20, va="baseline", ha="left")

fig.savefig("out.png", dpi=400)
